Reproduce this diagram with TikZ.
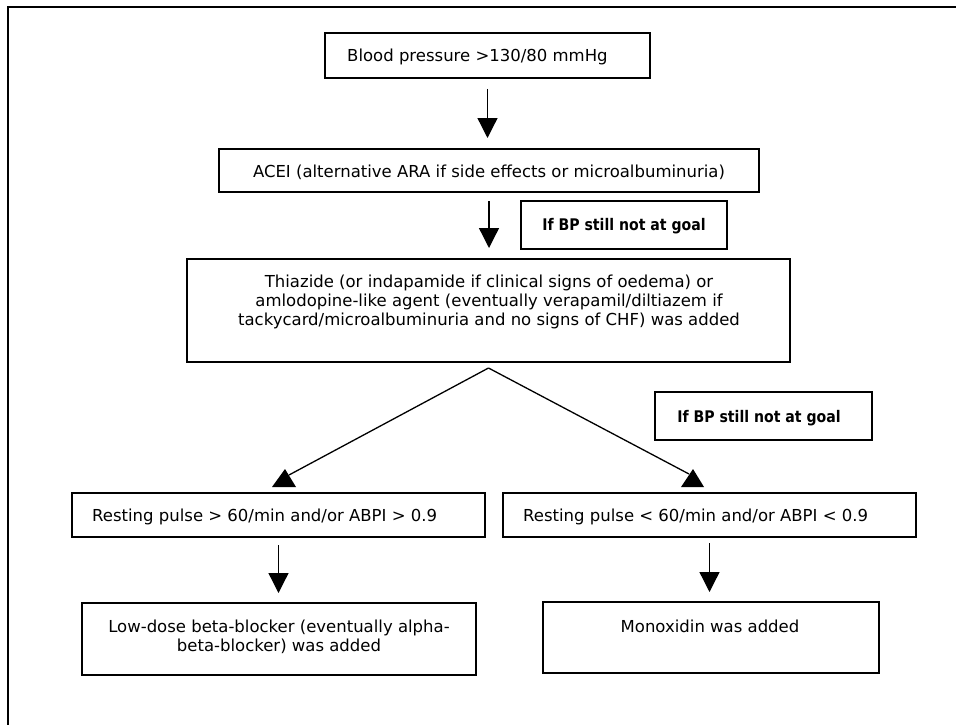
\documentclass[tikz,border=0pt]{standalone}
\usepackage{fontspec}
\setmainfont{DejaVu Sans}
\newfontfamily\goalfont{DejaVu Sans}[FakeStretch=0.88]
\usetikzlibrary{arrows.meta,calc}
\begin{document}
\begin{tikzpicture}[x=1pt,y=-1pt,
  box/.style={draw, line width=1.5pt, inner sep=0pt, outer sep=0pt, anchor=north west},
  txt/.style={inner sep=0pt, font=\fontsize{16.5}{19}\selectfont},
  goal/.style={inner sep=0pt, font=\goalfont\bfseries\fontsize{16}{19}\selectfont},
  arr/.style={line width=1.3pt, -{Triangle[width=20pt,length=20pt]}},
  diag/.style={line width=1.3pt},
  head/.style={fill=black}]
\useasboundingbox (0,0) rectangle (956,725);
\draw[line width=2pt] (8,725) -- (8,7) -- (956,7);
% boxes
\node[box, minimum width=325pt, minimum height=45pt] (b1) at (325,33) {};
\node[box, minimum width=540pt, minimum height=43pt] (b2) at (219,149) {};
\node[box, minimum width=206pt, minimum height=48pt] (g1) at (521,201) {};
\node[box, minimum width=603pt, minimum height=103pt] (b3) at (187,259) {};
\node[box, minimum width=217pt, minimum height=48pt] (g2) at (655,392) {};
\node[box, minimum width=413pt, minimum height=44pt] (r1) at (72,493) {};
\node[box, minimum width=413pt, minimum height=44pt] (r2) at (503,493) {};
\node[box, minimum width=394pt, minimum height=72pt] (l1) at (82,603) {};
\node[box, minimum width=336pt, minimum height=71pt] (m1) at (543,602) {};
% texts
\node[txt, anchor=base west] (t1) at (347,62) {Blood pressure >130/80 mmHg};
\node[txt, anchor=base] (t2) at (489,177) {ACEI (alternative ARA if side effects or microalbuminuria)};
\node[goal, anchor=base] (tg1) at (624,230) {If BP still not at goal};
\node[txt, anchor=north, align=center] (t3) at (489,273.7) {\strut Thiazide (or indapamide if clinical signs of oedema) or\\amlodopine-like agent (eventually verapamil/diltiazem if\\tackycard/microalbuminuria and no signs of CHF) was added};
\node[goal, anchor=base] (tg2) at (759,422) {If BP still not at goal};
\node[txt, anchor=base west] (tr1) at (92,521) {Resting pulse > 60/min and/or ABPI > 0.9};
\node[txt, anchor=base west] (tr2) at (523,521) {Resting pulse < 60/min and/or ABPI < 0.9};
\node[txt, anchor=north, align=center] (tl1) at (279,618.7) {\strut Low-dose beta-blocker (eventually alpha-\\beta-blocker) was added};
\node[txt, anchor=base] (tm1) at (710,632) {Monoxidin was added};
% vertical arrows
\draw[arr] ($(b1.south)+(0,11)$) -- ($(b1.south |- b2.north)+(0,-11)$);
\draw[arr] ($(b2.south)+(0,9)$) -- ($(b2.south |- b3.north)+(0,-11)$);
\draw[arr] ($(r1.south)+(0,8)$) -- ($(r1.south |- l1.north)+(0,-10)$);
\draw[arr] ($(r2.south)+(0,6)$) -- ($(r2.south |- m1.north)+(0,-10)$);
% diagonal arrows
\coordinate (split) at ($(b3.south)+(0,6)$);
\coordinate (lh) at (285,469);
\coordinate (rh) at (693,469);
\draw[diag] (split) -- ($(lh)+(4,6)$);
\draw[diag] (split) -- ($(rh)+(-4,5)$);
\fill[head] (lh) -- ++(-13,18) -- ++(24,0) -- cycle;
\fill[head] (rh) -- ++(-12,18) -- ++(23,0) -- cycle;
\end{tikzpicture}
\end{document}
